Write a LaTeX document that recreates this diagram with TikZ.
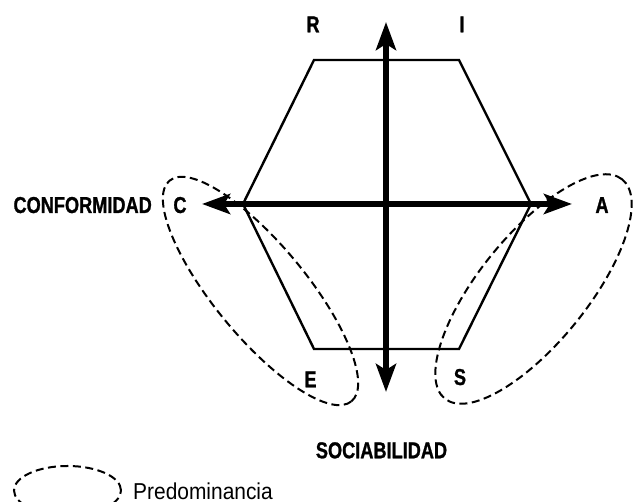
\documentclass[tikz,border=0pt]{standalone}
\usepackage{fontspec}
\usetikzlibrary{arrows.meta}
\newfontfamily\rotulofont[FakeStretch=0.79, BoldFeatures={FakeBold=1}]{Liberation Sans}
\newfontfamily\legendafont[FakeStretch=0.91]{Liberation Sans}

\begin{document}
\begin{tikzpicture}[x=1pt, y=1pt,
    >={Stealth[length=28pt, width=20pt, inset=6pt]},
    eixo/.style={line width=5.5pt, <->},
    hexagono/.style={line width=2.4pt, line join=miter},
    zona/.style={line width=2pt, dash pattern=on 8pt off 4.5pt},
    rotulo/.style={font=\rotulofont\bfseries\fontsize{23}{24}\selectfont, inner sep=0pt, anchor=base},
    legenda/.style={font=\legendafont\fontsize{23}{24}\selectfont, inner sep=0pt, anchor=base west}]
    \useasboundingbox (0,0) rectangle (638,502);
    \clip (0,0) rectangle (638,502);

    % vértices do hexágono
    \coordinate (vR) at (314,442);
    \coordinate (vI) at (459,442);
    \coordinate (vA) at (531,298);
    \coordinate (vS) at (459,153);
    \coordinate (vE) at (314,153);
    \coordinate (vC) at (243,298);
    \draw[hexagono] (vR) -- (vI) -- (vA) -- (vS) -- (vE) -- (vC) -- cycle;

    % zonas de predominância
    \draw[zona] (260.5,211) ellipse [x radius=143, y radius=46, rotate=-50.5];
    \draw[zona] (533.5,213) ellipse [x radius=141, y radius=54, rotate=51];

    % eixos
    \coordinate (topo) at (386,480);
    \coordinate (base) at (386,110);
    \coordinate (esq) at (202,298);
    \coordinate (dir) at (572,298);
    \draw[eixo] (base) -- (topo);
    \draw[eixo] (esq) -- (dir);

    % rótulos
    \node[rotulo] (R) at (313,469.7) {R};
    \node[rotulo] (I) at (462,469.7) {I};
    \node[rotulo] (C) at (180,289) {C};
    \node[rotulo, anchor=base east] (conf) at (152,289) {CONFORMIDAD};
    \node[rotulo] (A) at (602,289) {A};
    \node[rotulo] (E) at (310.5,114.7) {E};
    \node[rotulo] (S) at (460,117) {S};
    \node[rotulo] (soc) at (381.5,43.7) {SOCIABILIDAD};

    % legenda
    \draw[zona] (67.5,11.5) ellipse [x radius=53.5, y radius=24.5];
    \node[legenda] (pred) at (133,2.7) {Predominancia};
\end{tikzpicture}
\end{document}
